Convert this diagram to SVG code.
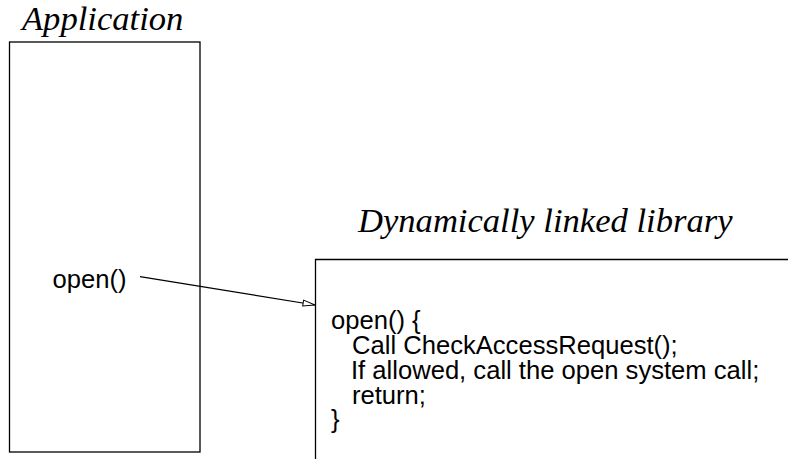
<svg xmlns="http://www.w3.org/2000/svg" width="788" height="459" viewBox="0 0 788 459">
  <style>
    .title { font-family: "Liberation Serif", "Times New Roman", serif; font-style: italic; font-size: 34.6px; fill: #000; }
    .code { font-family: "Liberation Sans", Arial, sans-serif; font-size: 25.6px; fill: #000; }
    .box { fill: none; stroke: #000; stroke-width: 1.3; }
    .edge { fill: none; stroke: #000; stroke-width: 1.2; }
  </style>
  <defs>
    <marker id="arrow" viewBox="0 0 14 8" refX="13" refY="4" markerWidth="14" markerHeight="8" markerUnits="userSpaceOnUse" orient="auto">
      <path d="M1,1 L13,4 L1,7 Z" fill="#fff" stroke="#000" stroke-width="1"/>
    </marker>
  </defs>

  <g id="application">
    <text class="title" x="22" y="30">Application</text>
    <rect class="box" x="9.5" y="42" width="190.5" height="410"/>
    <text class="code" x="52.5" y="288">open()</text>
  </g>

  <g id="library">
    <text class="title" x="358" y="232">Dynamically linked library</text>
    <path class="box" d="M790,259.5 H315.5 V461"/>
    <text class="code" x="331" y="329">open() {</text>
    <text class="code" x="352" y="354">Call CheckAccessRequest();</text>
    <text class="code" x="351" y="379">If allowed, call the open system call;</text>
    <text class="code" x="352" y="404">return;</text>
    <text class="code" x="331" y="428">}</text>
  </g>

  <g id="connectors">
    <line class="edge" x1="140" y1="276.7" x2="315" y2="305" marker-end="url(#arrow)"/>
  </g>
</svg>
